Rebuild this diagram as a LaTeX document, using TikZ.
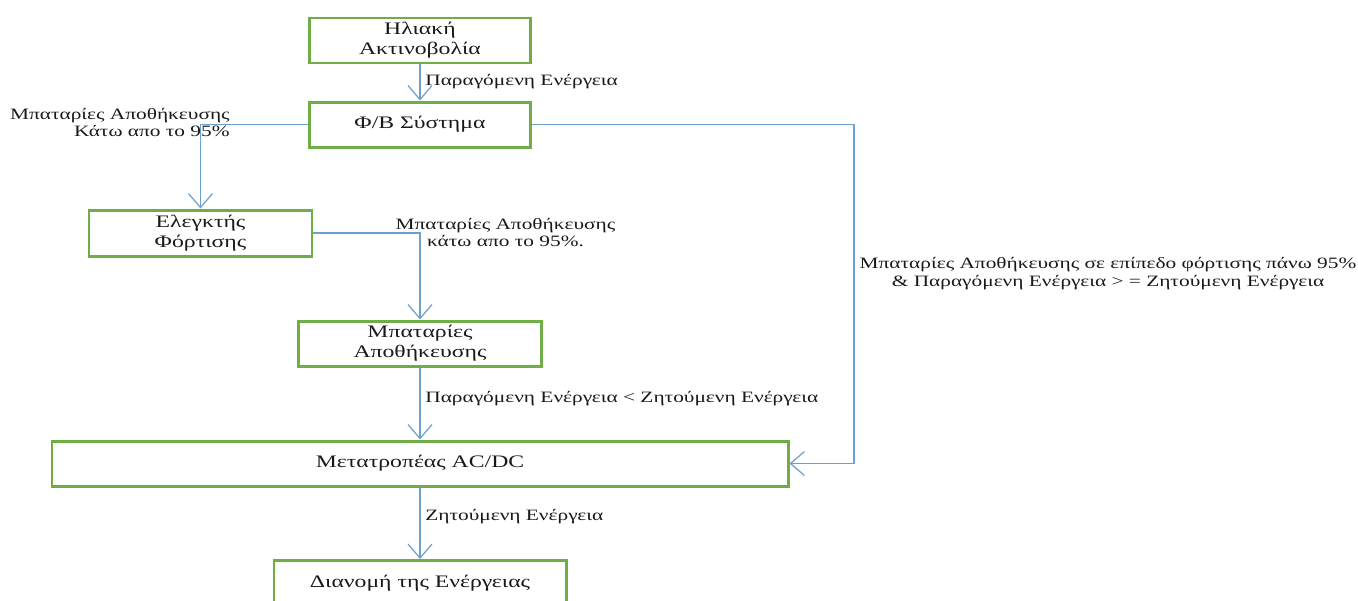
\documentclass[tikz,border=0pt]{standalone}
\usepackage{fontspec}
\setmainfont{Liberation Serif}[FakeStretch=1.35]
\usepackage{tikz}
\usetikzlibrary{arrows.meta}

\definecolor{boxgreen}{RGB}{112,173,71}
\definecolor{flowblue}{RGB}{110,160,205}
\definecolor{inkgray}{RGB}{25,25,25}

\begin{document}
\begin{tikzpicture}[
		box/.style={draw=boxgreen, line width=1.7pt, align=center, inner sep=0pt, text=inkgray, font=\fontsize{10}{11.3}\selectfont},
		flow/.style={draw=flowblue, line width=0.7pt, -{Straight Barb[length=0.28cm,width=0.48cm]}},
		lbl/.style={text=inkgray, inner sep=0pt, font=\fontsize{9}{10.2}\selectfont}]
			\useasboundingbox (0,0) rectangle (27.16,-12);
			
			\node[box, minimum width=4.42cm, minimum height=0.9cm] (sun) at (8.4,-0.81) {Ηλιακή\\Ακτινοβολία};
			\node[box, minimum width=4.42cm, minimum height=0.9cm] (pv) at (8.4,-2.49) {Φ/Β Σύστημα};
			\node[box, minimum width=4.46cm, minimum height=0.92cm] (ctrl) at (4.01,-4.66) {Ελεγκτής\\Φόρτισης};
			\node[box, minimum width=4.86cm, minimum height=0.9cm] (batt) at (8.4,-6.87) {Μπαταρίες\\Αποθήκευσης};
			\node[box, minimum width=14.72cm, minimum height=0.9cm] (conv) at (8.4,-9.27) {Μετατροπέας AC/DC};
			\node[box, minimum width=5.84cm, minimum height=0.9cm] (dist) at (8.4,-11.66) {Διανομή της Ενέργειας};
			
			\coordinate (turn) at (17.08,-2.49);
			
			\draw[flow] (sun) -- (pv);
			\draw[flow] (pv.west) -| (ctrl.north);
			\draw[flow] (ctrl.east) -| (batt.north);
			\draw[flow] (batt) -- (conv);
			\draw[flow] (conv) -- (dist);
			\draw[flow] (pv.east) -- (turn) |- (conv.east);
			
			\node[lbl, anchor=west] (lblpv) at (8.5,-1.63) {Παραγόμενη Ενέργεια};
			\node[lbl, anchor=east, align=right] (lbllow) at (4.6,-2.45) {Μπαταρίες Αποθήκευσης\\Κάτω απο το 95\%};
			\node[lbl, align=center] (lblctrl) at (10.11,-4.65) {Μπαταρίες Αποθήκευσης\\κάτω απο το 95\%.};
			\node[lbl, anchor=west] (lblbatt) at (8.5,-7.98) {Παραγόμενη Ενέργεια < Ζητούμενη Ενέργεια};
			\node[lbl, anchor=west] (lbldemand) at (8.5,-10.34) {Ζητούμενη Ενέργεια};
			\node[lbl, align=center] (lblhigh) at (22.16,-5.48) {Μπαταρίες Αποθήκευσης σε επίπεδο φόρτισης πάνω 95\%\\\& Παραγόμενη Ενέργεια > = Ζητούμενη Ενέργεια};
		\end{tikzpicture}
\end{document}
